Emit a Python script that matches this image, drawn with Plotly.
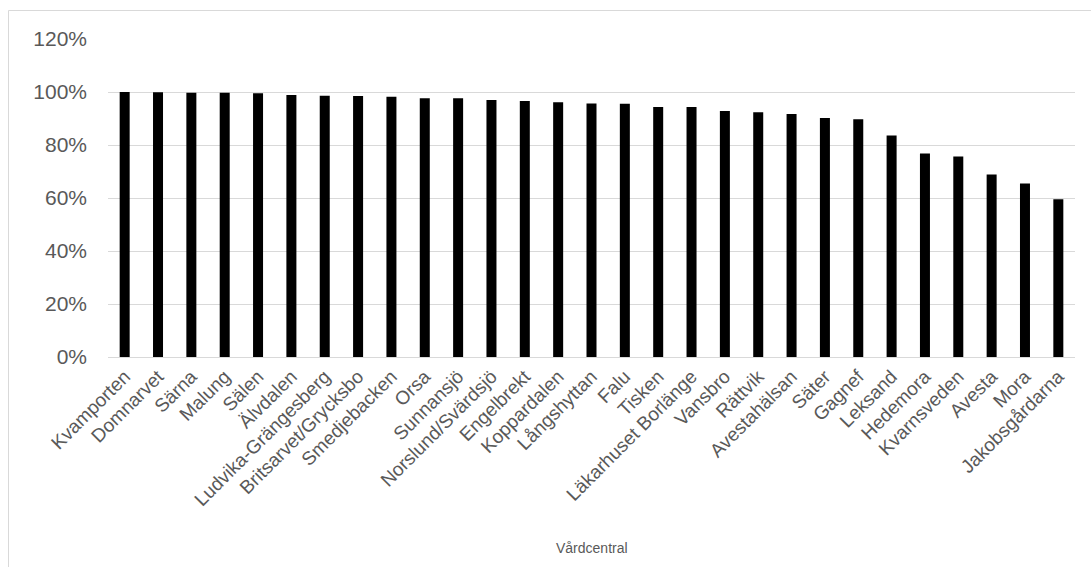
import plotly.graph_objects as go

# Share of patients per health centre (vårdcentral), Dalarna
vardcentraler = [
    "Kvamporten", "Domnarvet", "Särna", "Malung", "Sälen", "Älvdalen",
    "Ludvika-Grängesberg", "Britsarvet/Grycksbo", "Smedjebacken", "Orsa",
    "Sunnansjö", "Norslund/Svärdsjö", "Engelbrekt", "Koppardalen",
    "Långshyttan", "Falu", "Tisken", "Läkarhuset Borlänge", "Vansbro",
    "Rättvik", "Avestahälsan", "Säter", "Gagnef", "Leksand", "Hedemora",
    "Kvarnsveden", "Avesta", "Mora", "Jakobsgårdarna",
]
andel = [
    1.000, 0.999, 0.997, 0.997, 0.995, 0.989, 0.986, 0.985, 0.982, 0.976,
    0.976, 0.970, 0.966, 0.961, 0.957, 0.956, 0.943, 0.943, 0.928,
    0.924, 0.917, 0.902, 0.897, 0.836, 0.768, 0.757, 0.689, 0.655, 0.595,
]
y_ticks = [0, 0.2, 0.4, 0.6, 0.8, 1.0, 1.2]

W, H = 1091, 567
L, R, T, B = 108, 16, 39, 210

fig = go.Figure(
    go.Bar(
        x=vardcentraler,
        y=andel,
        marker=dict(color="#000000", line=dict(width=0)),
        width=0.3,
    )
)

font_family = "Liberation Sans, Arial, sans-serif"
grey_text = "#595959"
grid = "#d9d9d9"

fig.update_layout(
    width=W,
    height=H,
    margin=dict(l=L, r=R, t=T, b=B),
    paper_bgcolor="white",
    plot_bgcolor="white",
    showlegend=False,
    font=dict(family=font_family, color=grey_text),
)

fig.update_yaxes(
    range=[0, 1.2],
    tickvals=y_ticks,
    tickformat=".0%",
    showgrid=True,
    gridcolor=grid,
    gridwidth=1,
    zeroline=False,
    showline=False,
    ticks="",
    ticklabelstandoff=20,
    tickfont=dict(size=21, color=grey_text, family=font_family),
)

fig.update_xaxes(
    showgrid=False,
    showline=True,
    linecolor=grid,
    linewidth=1,
    ticks="",
    tickangle=-45,
    ticklabelstandoff=0,
    tickfont=dict(size=19, color=grey_text, family=font_family),
)

ph = H - T - B
pw = W - L - R


def px_x(px):
    return (px - L) / pw


def px_y(py):
    return (H - B - py) / ph


# Axis title below the rotated category labels
fig.add_annotation(
    text="Vårdcentral",
    xref="paper", yref="paper",
    x=0.5, y=px_y(548),
    xanchor="center", yanchor="middle",
    showarrow=False,
    font=dict(size=14, color=grey_text, family=font_family),
)

# Chart-area frame (top and left edges fall inside the page)
fig.add_shape(
    type="rect",
    xref="paper", yref="paper",
    x0=px_x(8.5), x1=px_x(W + 20),
    y0=px_y(H + 20), y1=px_y(10.5),
    line=dict(color=grid, width=1),
    fillcolor="rgba(0,0,0,0)",
    layer="below",
)

fig.write_html("out.html")
